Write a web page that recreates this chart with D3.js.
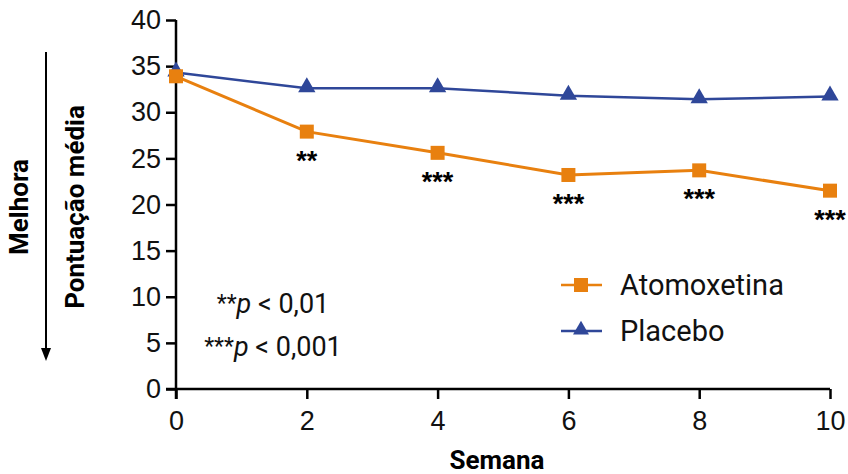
<!DOCTYPE html>
<html lang="pt">
<head>
<meta charset="UTF-8">
<title>Pontuação média por semana</title>
<script src="https://d3js.org/d3.v7.min.js"></script>
<style>
  body { margin: 0; background: #fff; }
  svg { display: block; font-family: Roboto, "Liberation Sans", sans-serif; }
  .axis path, .axis line { stroke: #000; stroke-width: 2.5px; }
  .axis text { font-size: 27px; fill: #111; }
  .lbl { font-weight: bold; font-size: 26px; fill: #000; }
</style>
</head>
<body>
<svg width="848" height="474"></svg>
<script>
  const weeks = [0, 2, 4, 6, 8, 10];
  const atomoxetina = [33.9, 27.9, 25.6, 23.2, 23.7, 21.5];
  const placebo = [34.3, 32.6, 32.6, 31.8, 31.4, 31.7];
  const signif = ["", "**", "***", "***", "***", "***"];
  const yTicks = [0, 5, 10, 15, 20, 25, 30, 35, 40];
  const xTicks = [0, 2, 4, 6, 8, 10];

  const orange = "#e8800f";
  const blue = "#2f4799";

  const svg = d3.select("svg");
  const x = d3.scaleLinear().domain([0, 10]).range([176, 830]);
  const y = d3.scaleLinear().domain([0, 40]).range([389, 20]);

  // axes
  svg.append("g").attr("class", "axis")
    .attr("transform", "translate(176,0)")
    .call(d3.axisLeft(y).tickValues(yTicks).tickSize(10).tickSizeOuter(0).tickPadding(5))
    .call(g => g.select(".domain").attr("d", `M0,${y(40)}V${y(0) + 10}`));

  svg.append("g").attr("class", "axis")
    .attr("transform", `translate(0,${y(0)})`)
    .call(d3.axisBottom(x).tickValues(xTicks).tickSize(10).tickSizeOuter(0).tickPadding(12))
    .call(g => g.select(".domain").attr("d", `M${x(0) - 10},0H${x(10)}`));

  // lines
  const line = d3.line().x((d, i) => x(weeks[i])).y(d => y(d));

  svg.append("path").datum(placebo)
    .attr("d", line).attr("fill", "none")
    .attr("stroke", blue).attr("stroke-width", 2.5);

  svg.append("path").datum(atomoxetina)
    .attr("d", line).attr("fill", "none")
    .attr("stroke", orange).attr("stroke-width", 3);

  const tri = d3.symbol().type(d3.symbolTriangle).size(130);

  svg.selectAll(".tri").data(placebo).join("path")
    .attr("class", "tri")
    .attr("d", tri)
    .attr("transform", (d, i) => `translate(${x(weeks[i])},${y(d) - 1})`)
    .attr("fill", blue);

  svg.selectAll(".sq").data(atomoxetina).join("rect")
    .attr("class", "sq")
    .attr("x", (d, i) => x(weeks[i]) - 7)
    .attr("y", d => y(d) - 7)
    .attr("width", 14).attr("height", 14)
    .attr("fill", orange);

  // significance stars
  svg.selectAll(".star").data(atomoxetina).join("text")
    .attr("class", "star")
    .attr("x", (d, i) => x(weeks[i]))
    .attr("y", d => y(d) + 38)
    .attr("text-anchor", "middle")
    .attr("font-size", 27)
    .attr("font-weight", "bold")
    .attr("font-family", "'Liberation Sans', sans-serif")
    .text((d, i) => signif[i]);

  // legend
  const legend = [
    { name: "Atomoxetina", color: orange, shape: "sq", y: 285 },
    { name: "Placebo", color: blue, shape: "tri", y: 331 }
  ];
  const lg = svg.selectAll(".leg").data(legend).join("g")
    .attr("transform", d => `translate(581,${d.y})`);
  lg.append("line").attr("x1", -20).attr("x2", 21)
    .attr("stroke", d => d.color).attr("stroke-width", 2.5);
  lg.filter(d => d.shape === "sq").append("rect")
    .attr("x", -7).attr("y", -7).attr("width", 14).attr("height", 14)
    .attr("fill", d => d.color);
  lg.filter(d => d.shape === "tri").append("path")
    .attr("d", d3.symbol().type(d3.symbolTriangle).size(110))
    .attr("transform", "translate(0,-1)")
    .attr("fill", d => d.color);
  lg.append("text").attr("x", 39).attr("dy", "0.35em")
    .attr("font-size", 29).attr("fill", "#111")
    .text(d => d.name);

  // p-value notes
  const notes = [
    { stars: "**", rest: " < 0,01", y: 313 },
    { stars: "***", rest: " < 0,001", y: 356 }
  ];
  const nt = svg.selectAll(".note").data(notes).join("text")
    .attr("x", 273).attr("y", d => d.y)
    .attr("text-anchor", "middle")
    .attr("font-family", "'Liberation Sans Narrow', 'Roboto', sans-serif")
    .attr("font-size", 27).attr("fill", "#111");
  nt.append("tspan").attr("font-size", 23).attr("dy", -2).text(d => d.stars);
  nt.append("tspan").attr("font-style", "italic").attr("dy", 2).text("p");
  nt.append("tspan").text(d => d.rest);

  // axis titles
  svg.append("text").attr("class", "lbl")
    .attr("transform", "translate(84,207) rotate(-90)")
    .attr("text-anchor", "middle").text("Pontuação média");
  svg.append("text").attr("class", "lbl")
    .attr("transform", "translate(28,207) rotate(-90)")
    .attr("text-anchor", "middle").text("Melhora");
  svg.append("text").attr("class", "lbl")
    .attr("x", 497).attr("y", 469)
    .attr("font-size", 24)
    .attr("text-anchor", "middle").text("Semana");

  // arrow "Melhora"
  svg.append("line").attr("x1", 46).attr("x2", 46).attr("y1", 52).attr("y2", 350)
    .attr("stroke", "#000").attr("stroke-width", 2);
  svg.append("path").attr("d", "M41,348L51,348L46,361Z").attr("fill", "#000");
</script>
</body>
</html>
